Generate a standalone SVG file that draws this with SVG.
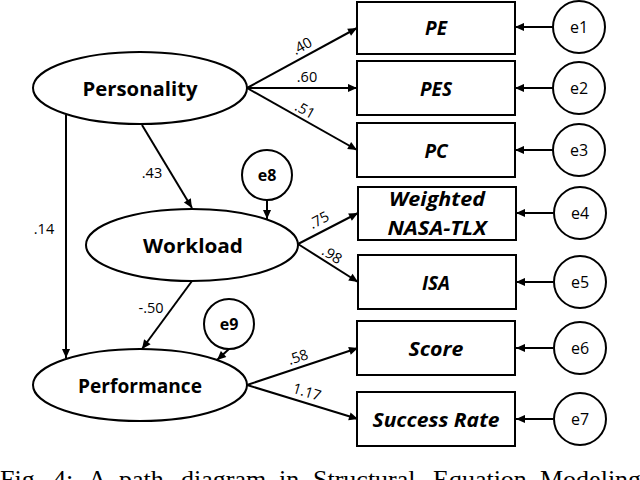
<svg xmlns="http://www.w3.org/2000/svg" width="640" height="480" viewBox="0 0 640 480">
<defs>
<style>
.sh{fill:#fff;stroke:#000;stroke-width:2}
.lv{font-family:"Open Sans","Liberation Sans",sans-serif;font-weight:bold;font-size:19px;text-anchor:middle}
.ob{font-family:"Open Sans","Liberation Sans",sans-serif;font-weight:bold;font-style:italic;font-size:19px;text-anchor:middle}
.er{font-family:"Open Sans","Liberation Sans",sans-serif;font-size:16px;text-anchor:middle}
.erb{font-family:"Open Sans","Liberation Sans",sans-serif;font-weight:bold;font-size:16px;text-anchor:middle}
.co{font-family:"Open Sans","Liberation Sans",sans-serif;font-size:14.5px;text-anchor:middle}
.cn path{fill:none;stroke:#000;stroke-width:2;marker-end:url(#ah)}
.cap{font-family:"Liberation Serif","Times New Roman",serif;font-size:26px}
</style>
<marker id="ah" viewBox="0 0 10 10" refX="10" refY="5" markerWidth="11" markerHeight="9" markerUnits="userSpaceOnUse" orient="auto">
<path d="M0,0.5 L10,5 L0,9.5 z" fill="#000"/>
</marker>
</defs>
<rect width="640" height="480" fill="#fff"/>

<g class="cn" id="connectors">
<path d="M247,88 L357,28"/>
<path d="M247,88 L357,88"/>
<path d="M247,88 L357,150"/>
<path d="M142,125 L192,208"/>
<path d="M267,200 L267,219"/>
<path d="M298,244 L358,213"/>
<path d="M298,244 L358,282"/>
<path d="M192,281 L142,349"/>
<path d="M229,349 L217,360"/>
<path d="M66,115 L66,358"/>
<path d="M247,385 L358,348"/>
<path d="M247,385 L358,419"/>
<path d="M553,27 L515,27"/>
<path d="M553,88 L515,88"/>
<path d="M553,150 L515,150"/>
<path d="M553,213 L516,213"/>
<path d="M553,282 L516,282"/>
<path d="M553,348 L516,348"/>
<path d="M553,419 L516,419"/>
</g>

<g id="coef">
<text class="co" transform="rotate(-29 302 46)" x="302" y="51">.40</text>
<text class="co" x="307" y="82">.60</text>
<text class="co" transform="rotate(29 305 110)" x="305" y="115">.51</text>
<text class="co" x="152" y="178">.43</text>
<text class="co" x="44" y="234">.14</text>
<text class="co" transform="rotate(-28 319 220)" x="319" y="225">.75</text>
<text class="co" transform="rotate(32 332 255)" x="332" y="260">.98</text>
<text class="co" x="151" y="313">-.50</text>
<text class="co" transform="rotate(-18 298 357)" x="298" y="362">.58</text>
<text class="co" transform="rotate(17 307 392)" x="307" y="397">1.17</text>
</g>

<g id="personality"><ellipse class="sh" cx="140" cy="88" rx="107" ry="36"/><text class="lv" x="140" y="96" textLength="115" lengthAdjust="spacingAndGlyphs">Personality</text></g>
<g id="workload"><ellipse class="sh" cx="192" cy="245" rx="106" ry="36"/><text class="lv" x="193" y="253" textLength="100" lengthAdjust="spacingAndGlyphs">Workload</text></g>
<g id="performance"><ellipse class="sh" cx="140" cy="385" rx="107" ry="36"/><text class="lv" x="140" y="393" textLength="124" lengthAdjust="spacingAndGlyphs">Performance</text></g>

<g id="e8"><circle class="sh" cx="267" cy="175" r="25"/><text class="erb" x="267" y="181">e8</text></g>
<g id="e9"><circle class="sh" cx="229" cy="324" r="25"/><text class="erb" x="229" y="330">e9</text></g>

<g id="PE"><rect class="sh" x="357" y="2" width="158" height="52"/><text class="ob" x="436" y="35">PE</text></g>
<g id="PES"><rect class="sh" x="357" y="61" width="158" height="54"/><text class="ob" x="436" y="96">PES</text></g>
<g id="PC"><rect class="sh" x="357" y="123" width="158" height="54"/><text class="ob" x="436" y="158">PC</text></g>
<g id="NASA"><rect class="sh" x="358" y="187" width="158" height="53"/><text class="ob" x="437" y="206" textLength="96" lengthAdjust="spacingAndGlyphs">Weighted</text><text class="ob" x="437" y="235" textLength="99" lengthAdjust="spacingAndGlyphs">NASA-TLX</text></g>
<g id="ISA"><rect class="sh" x="358" y="255" width="158" height="54"/><text class="ob" x="436" y="290">ISA</text></g>
<g id="Score"><rect class="sh" x="357" y="321" width="158" height="54"/><text class="ob" x="436" y="356" textLength="55" lengthAdjust="spacingAndGlyphs">Score</text></g>
<g id="SuccessRate"><rect class="sh" x="357" y="392" width="158" height="54"/><text class="ob" x="436" y="427" textLength="127" lengthAdjust="spacingAndGlyphs">Success Rate</text></g>

<g id="e1"><circle class="sh" cx="579" cy="27" r="26"/><text class="er" x="579" y="33">e1</text></g>
<g id="e2"><circle class="sh" cx="579" cy="88" r="26"/><text class="er" x="579" y="94">e2</text></g>
<g id="e3"><circle class="sh" cx="579" cy="150" r="26"/><text class="er" x="579" y="156">e3</text></g>
<g id="e4"><circle class="sh" cx="580" cy="213" r="26"/><text class="er" x="580" y="219">e4</text></g>
<g id="e5"><circle class="sh" cx="580" cy="282" r="26"/><text class="er" x="580" y="288">e5</text></g>
<g id="e6"><circle class="sh" cx="580" cy="348" r="26"/><text class="er" x="580" y="354">e6</text></g>
<g id="e7"><circle class="sh" cx="580" cy="419" r="26"/><text class="er" x="580" y="425">e7</text></g>

<g id="caption" class="cap">
<text x="0" y="488">Fig.</text>
<text x="53" y="488">4:</text>
<text x="88" y="488">A</text>
<text x="119" y="488">path</text>
<text x="181" y="488">diagram</text>
<text x="279" y="488">in</text>
<text x="313" y="488">Structural</text>
<text x="433" y="488">Equation</text>
<text x="540" y="488">Modeling</text>
</g>
</svg>
